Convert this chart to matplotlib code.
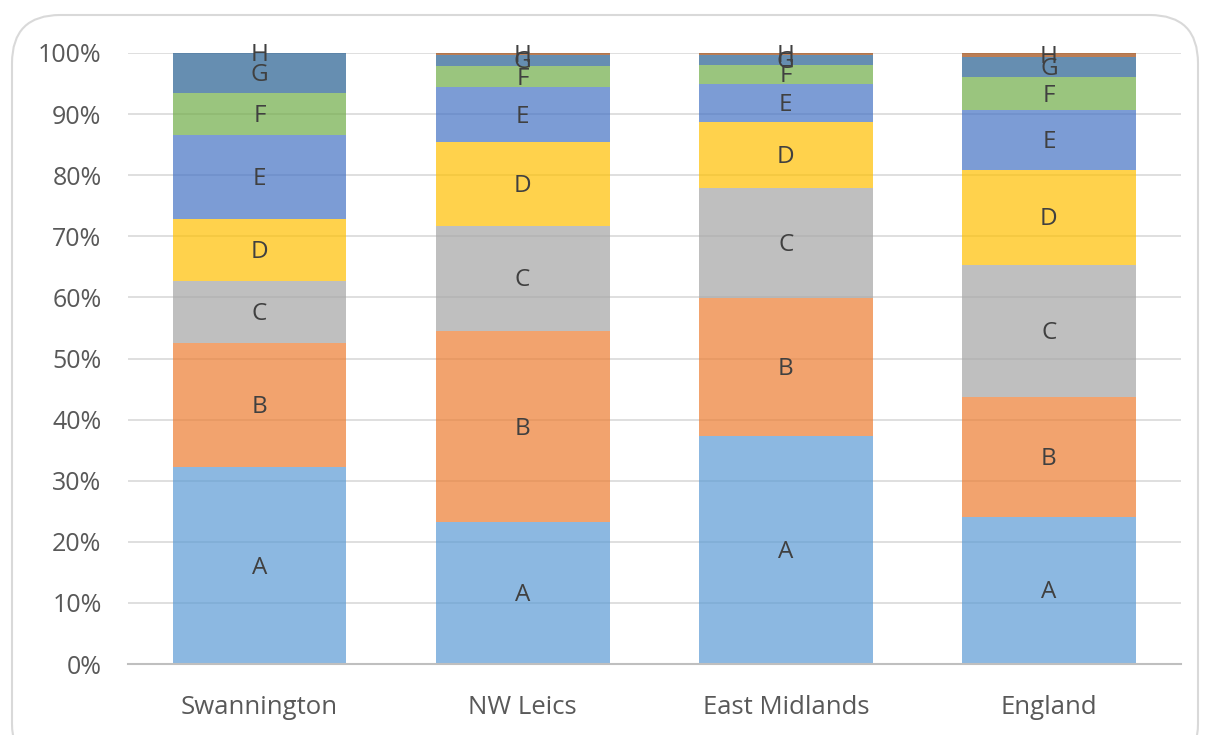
import matplotlib
matplotlib.use("Agg")
import matplotlib.pyplot as plt
from matplotlib.patches import FancyBboxPatch
from matplotlib.transforms import ScaledTranslation
import numpy as np

# Share of each group (percent) by area
areas = ["Swannington", "NW Leics", "East Midlands", "England"]
groups = ["A", "B", "C", "D", "E", "F", "G", "H"]
A = [32.2, 23.2, 37.3, 24.1]
B = [20.3, 31.3, 22.6, 19.6]
C = [10.2, 17.2, 18.0, 21.6]
D = [10.1, 13.7, 10.8, 15.6]
E = [13.7, 9.0, 6.2, 9.8]
F = [6.9, 3.5, 3.2, 5.3]
G = [6.6, 1.8, 1.6, 3.4]
H = [0.0, 0.3, 0.3, 0.6]
series = [A, B, C, D, E, F, G, H]
yticks = [0, 10, 20, 30, 40, 50, 60, 70, 80, 90, 100]

colors = ["#5B9BD5", "#ED7D31", "#A5A5A5", "#FFC000",
          "#4472C4", "#70AD47", "#255E91", "#9E480E"]

plt.rcParams["font.family"] = ["Open Sans", "DejaVu Sans"]

fig = plt.figure(figsize=(12.06, 7.35), dpi=100)
ax = fig.add_axes([128 / 1206, 1 - 664 / 735, (1180.5 - 128) / 1206, (664 - 53) / 735])

# Rounded chart-area frame
frame = FancyBboxPatch((12 / 1206, -0.05), (1198 - 12) / 1206, (735 - 15) / 735 + 0.05,
                       boxstyle="round,pad=0,rounding_size=0.04",
                       transform=fig.transFigure, facecolor="none",
                       edgecolor="#D9D9D9", linewidth=1.5, zorder=-1,
                       mutation_aspect=1206 / 735)
fig.patches.append(frame)

# segment labels sit a touch below the exact segment centre
label_shift = ax.transData + ScaledTranslation(0, -2 / 100, fig.dpi_scale_trans)

x = np.arange(len(areas))
bottom = np.zeros(len(areas))
for name, vals, col in zip(groups, series, colors):
    vals = np.array(vals)
    ax.bar(x, vals, 0.66, bottom=bottom, color=col, alpha=0.7,
           edgecolor="none", zorder=2)
    for xi, b, v in zip(x, bottom, vals):
        ax.text(xi, b + v / 2, name, ha="center", va="center",
                fontsize=17.5, color="#404040", zorder=3,
                transform=label_shift)
    bottom += vals

ax.set_xlim(-0.5, len(areas) - 0.5)
ax.set_ylim(0, 100)
ax.set_yticks(yticks)
ax.set_yticklabels([f"{t}%" for t in yticks])
ax.set_xticks(x)
ax.set_xticklabels(areas)
ax.yaxis.grid(True, color="#D9D9D9", linewidth=1.2, zorder=0)
ax.set_axisbelow(True)
for s in ["top", "right", "left"]:
    ax.spines[s].set_visible(False)
ax.spines["bottom"].set_color("#BFBFBF")
ax.spines["bottom"].set_linewidth(1.5)
ax.tick_params(axis="y", length=0, labelsize=18, colors="#595959", pad=19)
ax.tick_params(axis="x", length=0, labelsize=18.5, colors="#595959", pad=22)

fig.savefig("out.png", dpi=100)
